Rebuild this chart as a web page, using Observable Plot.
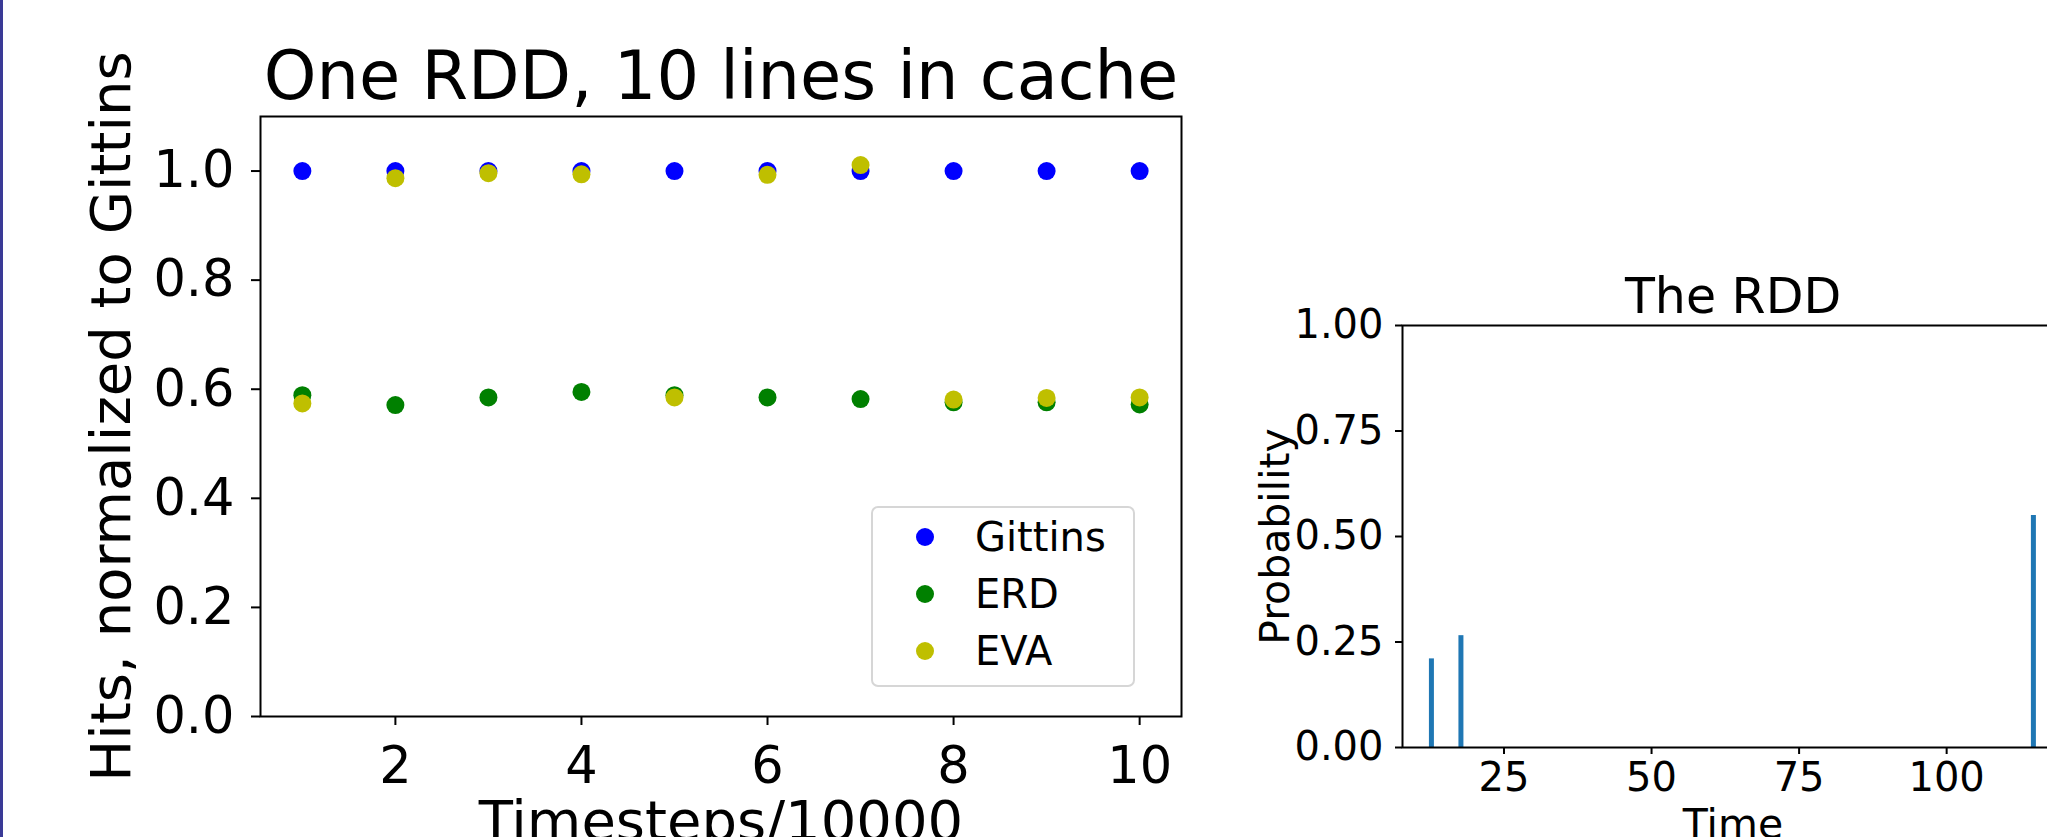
<!DOCTYPE html>
<html>
<head>
<meta charset="utf-8">
<script src="https://cdn.jsdelivr.net/npm/d3@7"></script>
<script src="https://cdn.jsdelivr.net/npm/@observablehq/plot@0.6"></script>
<style>
  html, body { margin: 0; padding: 0; background: #fff; overflow: hidden; }
  #stage { position: relative; width: 2047px; height: 837px; overflow: hidden; background: #fff; font-family: "DejaVu Sans"; }
  #edge { position: absolute; left: 0; top: 0; width: 3px; height: 837px; background: #3a3a96; z-index: 5; }
  #left { position: absolute; left: 0; top: 0; width: 1240px; height: 837px; }
  #right { position: absolute; left: 1150px; top: 0; width: 930px; height: 837px; }
  #left svg, #right svg { max-width: none !important; }
  #legend { position: absolute; left: 871px; top: 506px; width: 260px; height: 177px;
            border: 2px solid #d6d6d6; border-radius: 7px; background: rgba(255,255,255,0.8); }
  .row { position: absolute; left: 0; height: 50px; display: flex; align-items: center; }
  .row svg { margin-left: 42px; }
  .row span { margin-left: 40px; font-size: 40px; font-family: "DejaVu Sans"; color: #000; }
</style>
</head>
<body>
<div id="stage">
  <div id="edge"></div>
  <div id="left"></div>
  <div id="right"></div>
  <div id="legend"></div>
</div>
<script>
// ---- Data: left chart ----
const timesteps = [1, 2, 3, 4, 5, 6, 7, 8, 9, 10];
const gittins = [1, 1, 1, 1, 1, 1, 1, 1, 1, 1];
const erd = [0.589, 0.571, 0.585, 0.595, 0.589, 0.585, 0.582, 0.576, 0.576, 0.572];
const eva = [0.574, 0.987, 0.996, 0.994, 0.585, 0.993, 1.011, 0.581, 0.584, 0.585];
const seriesNames = ["Gittins", "ERD", "EVA"];
const seriesColors = ["#0000ff", "#008000", "#bfbf00"];
const leftXTicks = [2, 4, 6, 8, 10];
const leftYTicks = [0, 0.2, 0.4, 0.6, 0.8, 1.0];
const leftTitle = "One RDD, 10 lines in cache";
const leftXLabel = "Timesteps/10000";
const leftYLabel = "Hits, normalized to Gittins";

// ---- Data: right chart ----
const rddTimes = [12.7, 17.7, 114.7];
const rddProbs = [0.21, 0.265, 0.55];
const rightXTicks = [25, 50, 75, 100];
const rightYTicks = [0, 0.25, 0.5, 0.75, 1.0];
const rightTitle = "The RDD";
const rightXLabel = "Time";
const rightYLabel = "Probability";

const seriesValues = [gittins, erd, eva];
const points = seriesNames.flatMap((name, i) =>
  seriesValues[i].map((v, j) => ({series: name, t: timesteps[j], v})));
const rdd = rddTimes.map((t, i) => ({t, p: rddProbs[i]}));

const font = "DejaVu Sans";

const leftPlot = Plot.plot({
  width: 1240, height: 837,
  marginLeft: 260, marginRight: 59, marginTop: 116, marginBottom: 121,
  style: {fontFamily: font, fontSize: "51px", background: "transparent", color: "#000", maxWidth: "none"},
  x: {domain: [0.55, 10.45]},
  y: {domain: [0, 1.1]},
  color: {domain: seriesNames, range: seriesColors},
  marks: [
    Plot.dot(points, {x: "t", y: "v", fill: "series", r: 9}),
    Plot.frame({stroke: "#000", strokeWidth: 2}),
    Plot.axisX({ticks: leftXTicks, tickFormat: d3.format("d"), tickSize: 9, tickPadding: 21,
                fontSize: 51, strokeWidth: 2, label: null}),
    Plot.axisY({ticks: leftYTicks, tickFormat: d3.format(".1f"), tickSize: 9, tickPadding: 17,
                fontSize: 51, strokeWidth: 2, label: null}),
    Plot.text([leftTitle], {frameAnchor: "top", lineAnchor: "bottom", dy: -18, fontSize: 67}),
    Plot.text([leftXLabel], {frameAnchor: "bottom", lineAnchor: "top", dy: 84, fontSize: 56}),
    Plot.text([leftYLabel], {frameAnchor: "left", textAnchor: "middle", lineAnchor: "bottom",
                             rotate: -90, dx: -131, fontSize: 56})
  ]
});
document.getElementById("left").appendChild(leftPlot);

const rightPlot = Plot.plot({
  width: 930, height: 837,
  marginLeft: 252, marginRight: 17, marginTop: 325, marginBottom: 90,
  style: {fontFamily: font, fontSize: "40px", background: "transparent", color: "#000", maxWidth: "none"},
  x: {domain: [7.8, 119.8]},
  y: {domain: [0, 1]},
  marks: [
    Plot.ruleX(rdd, {x: "t", y1: 0, y2: "p", stroke: "#1f77b4", strokeWidth: 5}),
    Plot.frame({stroke: "#000", strokeWidth: 2}),
    Plot.axisX({ticks: rightXTicks, tickFormat: d3.format("d"), tickSize: 7, tickPadding: 8,
                fontSize: 40, strokeWidth: 2, label: null}),
    Plot.axisY({ticks: rightYTicks, tickFormat: d3.format(".2f"), tickSize: 7, tickPadding: 12,
                fontSize: 40, strokeWidth: 2, label: null}),
    Plot.text([rightTitle], {frameAnchor: "top", lineAnchor: "bottom", dy: -13, fontSize: 49}),
    Plot.text([rightXLabel], {frameAnchor: "bottom", lineAnchor: "top", dy: 61, fontSize: 41}),
    Plot.text([rightYLabel], {frameAnchor: "left", textAnchor: "middle", lineAnchor: "bottom",
                              rotate: -90, dx: -114, fontSize: 41})
  ]
});
document.getElementById("right").appendChild(rightPlot);

// ---- Legend (HTML, built from the series arrays) ----
const legend = document.getElementById("legend");
seriesNames.forEach((name, i) => {
  const row = document.createElement("div");
  row.className = "row";
  row.style.top = (4 + 57 * i) + "px";
  const svg = document.createElementNS("http://www.w3.org/2000/svg", "svg");
  svg.setAttribute("width", "20"); svg.setAttribute("height", "20");
  const c = document.createElementNS("http://www.w3.org/2000/svg", "circle");
  c.setAttribute("cx", "10"); c.setAttribute("cy", "10"); c.setAttribute("r", "9");
  c.setAttribute("fill", seriesColors[i]);
  svg.appendChild(c);
  const span = document.createElement("span");
  span.textContent = name;
  row.appendChild(svg); row.appendChild(span);
  legend.appendChild(row);
});
</script>
</body>
</html>
